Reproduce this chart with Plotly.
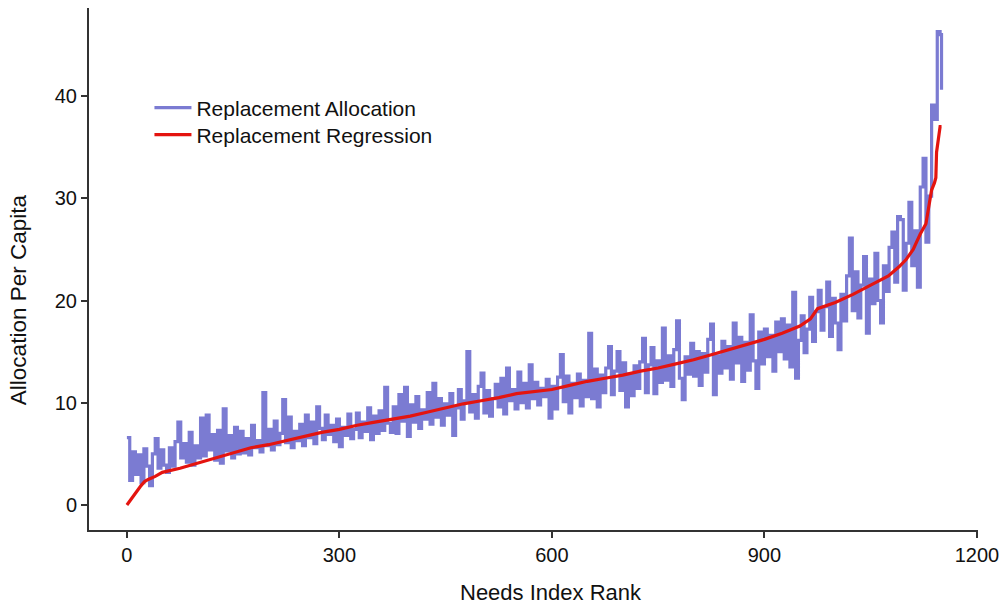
import plotly.graph_objects as go

alloc_rank = list(range(0, 1149, 4)) + [1150]
alloc_vals = [
    6.6, 2.4, 5.2, 3.0, 4.9, 2.2, 5.5, 3.8, 1.9, 5.0,
    6.5, 3.6, 5.4, 3.9, 3.2, 5.6, 3.8, 6.2, 8.1, 4.6,
    6.0, 4.2, 7.1, 3.9, 5.8, 4.6, 8.5, 4.8, 8.8, 5.4,
    6.9, 4.4, 7.3, 4.1, 9.4, 5.3, 6.8, 4.6, 7.6, 5.0,
    7.2, 5.1, 6.5, 4.9, 7.8, 5.6, 6.3, 5.2, 11.0, 5.8,
    7.4, 5.4, 8.2, 5.9, 7.0, 10.3, 6.1, 8.6, 5.6, 7.2,
    6.3, 7.9, 5.8, 8.8, 6.6, 8.1, 6.0, 9.6, 7.5, 6.4,
    8.8, 6.9, 7.8, 6.2, 8.4, 5.7, 7.6, 6.8, 8.9, 6.5,
    7.4, 9.0, 6.6, 8.1, 7.2, 9.5, 6.4, 8.7, 7.0, 9.2,
    7.3, 11.5, 8.0, 7.1, 9.6, 7.0, 10.8, 8.2, 11.5, 6.7,
    9.8, 8.1, 10.6, 7.5, 9.3, 8.4, 11.0, 7.9, 11.9, 8.6,
    10.4, 7.8, 9.9, 8.8, 10.9, 6.8, 9.5, 11.3, 8.4, 10.2,
    15.0, 9.1, 10.8, 8.5, 11.6, 12.9, 9.0, 11.2, 8.7, 10.4,
    11.8, 9.6, 12.4, 8.9, 13.4, 10.2, 11.3, 9.4, 13.0, 10.0,
    11.9, 9.5, 13.7, 10.4, 12.0, 9.8, 11.4, 10.6, 12.3, 8.5,
    11.6, 9.4, 12.5, 14.7, 10.1, 12.6, 9.0, 11.9, 10.5, 12.8,
    9.7, 12.2, 10.6, 16.8, 10.4, 13.3, 9.6, 12.7, 11.0, 13.4,
    15.5, 10.8, 13.1, 15.0, 11.2, 13.9, 9.6, 12.8, 10.7, 13.6,
    11.4, 14.0, 16.3, 11.0, 13.7, 15.4, 10.9, 14.1, 12.0, 17.3,
    12.2, 14.6, 11.6, 15.2, 18.0, 12.4, 10.3, 14.5, 12.8, 15.8,
    12.6, 15.0, 11.7, 14.8, 13.0, 16.2, 17.7, 10.8, 14.6, 12.9,
    16.0, 13.4, 15.5, 12.3, 17.8, 13.9, 16.4, 12.1, 15.9, 13.2,
    18.6, 14.1, 11.4, 16.9, 13.8, 17.2, 14.5, 16.6, 13.1, 17.9,
    15.0, 18.2, 14.3, 17.6, 13.5, 20.8, 12.4, 16.1, 18.5, 14.9,
    17.2, 20.3, 16.0, 18.9, 21.0, 17.1, 19.4, 21.8, 16.5, 20.2,
    17.8, 15.2, 20.6, 18.0, 22.4, 26.1, 19.0, 22.8, 18.3, 21.5,
    24.3, 16.8, 22.1, 19.7, 24.6, 20.0, 17.8, 23.4, 20.9, 25.2,
    26.7, 21.8, 28.2, 27.9, 21.0, 25.6, 29.6, 23.4, 26.8, 21.3,
    31.1, 33.9, 25.7, 30.2, 39.1, 37.7, 46.3, 46.0, 40.6,
]

# Replacement Regression
reg_rank = [0, 5, 10, 15, 20, 25, 30, 40, 50, 75, 100, 125, 150, 175, 200,
            225, 250, 275, 300, 325, 350, 375, 400, 425, 450, 475, 500, 525,
            550, 575, 600, 625, 650, 675, 700, 725, 750, 775, 800, 825, 850,
            875, 900, 925, 950, 965, 975, 1000, 1025, 1050, 1075, 1090, 1100,
            1110, 1120, 1128, 1132, 1136, 1140, 1142, 1143, 1146, 1148, 1150]
reg_vals = [0.0, 0.5, 1.0, 1.5, 1.9, 2.3, 2.5, 2.8, 3.2, 3.6, 4.1, 4.6, 5.1,
            5.6, 5.9, 6.3, 6.7, 7.1, 7.4, 7.8, 8.1, 8.4, 8.7, 9.1, 9.5, 9.9,
            10.2, 10.5, 10.9, 11.1, 11.3, 11.7, 12.1, 12.4, 12.7, 13.1, 13.4,
            13.8, 14.2, 14.7, 15.2, 15.7, 16.2, 16.8, 17.5, 18.2, 19.2, 19.8,
            20.6, 21.5, 22.4, 23.3, 24.0, 25.0, 26.5, 27.5, 29.0, 30.8, 31.5,
            32.0, 34.5, 36.0, 37.0, 37.0]

x_ticks = [0, 300, 600, 900, 1200]
y_ticks = [0, 10, 20, 30, 40]

FONT = "Liberation Sans, Arial, Helvetica, sans-serif"
AXIS_COL = "#333333"
TXT = "#111111"

fig = go.Figure()
fig.add_trace(go.Scatter(
    x=alloc_rank, y=alloc_vals, mode="lines", name="Replacement Allocation",
    line=dict(color="#7b7bd2", width=3.2, shape="hv"), legend="legend",
    showlegend=True,
))
fig.add_trace(go.Scatter(
    x=reg_rank, y=reg_vals, mode="lines", name="Replacement Regression",
    line=dict(color="#e4140f", width=3.2), legend="legend2",
    showlegend=True,
))

leg_common = dict(x=0.068, xanchor="left", yanchor="middle", itemwidth=37,
                  bgcolor="rgba(0,0,0,0)", font=dict(size=21, color=TXT))

fig.update_layout(
    width=1007, height=605,
    margin=dict(l=89, r=27, t=8, b=75),
    paper_bgcolor="white", plot_bgcolor="white",
    font=dict(family=FONT, size=20, color=TXT),
    showlegend=True,
    legend=dict(y=0.8084, visible=True, **leg_common),
    legend2=dict(y=0.7567, visible=True, **leg_common),
    xaxis=dict(
        range=[-53.5, 1201.5], tickvals=x_ticks, ticktext=[str(v) for v in x_ticks],
        showline=True, linecolor=AXIS_COL, linewidth=2,
        ticks="outside", ticklen=6, tickwidth=1.5, tickcolor=AXIS_COL,
        tickfont=dict(size=20, color=TXT),
        showgrid=False, zeroline=False,
    ),
    yaxis=dict(
        range=[-2.44, 48.6], tickvals=y_ticks,
        showline=True, linecolor=AXIS_COL, linewidth=2,
        ticks="outside", ticklen=6, tickwidth=1.5, tickcolor=AXIS_COL,
        tickfont=dict(size=20, color=TXT),
        showgrid=False, zeroline=False,
    ),
    annotations=[
        dict(text="Needs Index Rank", xref="paper", yref="paper",
             x=0.5196, y=-0.1188, xanchor="center", yanchor="middle",
             showarrow=False, font=dict(size=22, color=TXT)),
        dict(text="Allocation Per Capita", xref="paper", yref="paper",
             x=-0.0797, y=0.4406, xanchor="center", yanchor="middle",
             textangle=-90, showarrow=False, font=dict(size=22.5, color=TXT)),
    ],
)

fig.write_html("out.html")
